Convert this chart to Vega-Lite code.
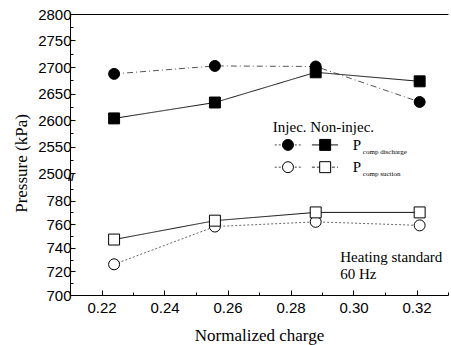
{
  "$schema": "https://vega.github.io/schema/vega-lite/v6.json",
  "padding": {"left": 12, "top": 7, "right": 0, "bottom": 2},
  "background": "white",
  "bounds": "flush",
  "config": {
    "view": {"stroke": null},
    "axis": {
      "labelFont": "Liberation Sans", "labelFontSize": 15, "labelColor": "black",
      "domainColor": "black", "tickColor": "black", "grid": false,
      "titleFont": "Liberation Serif", "titleFontSize": 17, "titleFontWeight": "normal", "titleColor": "black",
      "labelPadding": 4, "labelOverlap": false, "tickCount": 30
    },
    "concat": {"spacing": 4}
  },
  "datasets": {
    "dis": [
      {"charge": 0.224, "pressure": 2687, "series": "inj_dis"},
      {"charge": 0.256, "pressure": 2702, "series": "inj_dis"},
      {"charge": 0.288, "pressure": 2701, "series": "inj_dis"},
      {"charge": 0.321, "pressure": 2634, "series": "inj_dis"},
      {"charge": 0.224, "pressure": 2603, "series": "non_dis"},
      {"charge": 0.256, "pressure": 2633, "series": "non_dis"},
      {"charge": 0.288, "pressure": 2690, "series": "non_dis"},
      {"charge": 0.321, "pressure": 2673, "series": "non_dis"}
    ],
    "suc": [
      {"charge": 0.224, "pressure": 726, "series": "inj_suc"},
      {"charge": 0.256, "pressure": 758, "series": "inj_suc"},
      {"charge": 0.288, "pressure": 762, "series": "inj_suc"},
      {"charge": 0.321, "pressure": 759, "series": "inj_suc"},
      {"charge": 0.224, "pressure": 747, "series": "non_suc"},
      {"charge": 0.256, "pressure": 763, "series": "non_suc"},
      {"charge": 0.288, "pressure": 770, "series": "non_suc"},
      {"charge": 0.321, "pressure": 770, "series": "non_suc"}
    ]
  },
  "vconcat": [
    {
      "width": 378, "height": 159,
      "encoding": {
        "x": {"type": "quantitative", "scale": {"domain": [0.21, 0.33], "nice": false, "zero": false},
          "axis": {"orient": "top", "labels": false, "ticks": false, "title": null}},
        "y": {"type": "quantitative", "scale": {"domain": [2500, 2800], "nice": false, "zero": false},
          "axis": {"title": "Pressure (kPa)", "tickCount": 30, "values": [2500,2525,2550,2575,2600,2625,2650,2675,2700,2725,2750,2775,2800], "format": "d",
            "labelExpr": "datum.value % 50 == 0 ? datum.label : ''",
            "tickSize": {"condition": {"test": "datum.value % 50 == 0", "value": -5}, "value": -3},
            "titleX": -40, "titleY": 149, "titleAlign": "center", "titleBaseline": "bottom"}}
      },
      "layer": [
        {
          "data": {"name": "dis"},
          "encoding": {
            "x": {"field": "charge", "type": "quantitative"},
            "y": {"field": "pressure", "type": "quantitative"}
          },
          "layer": [
            {"mark": {"type": "line", "strokeWidth": 1},
             "encoding": {
               "detail": {"field": "series"},
               "strokeDash": {"field": "series", "type": "nominal", "legend": null, "scale": {"domain": ["inj_dis","non_dis","inj_suc","non_suc"], "range": [[6,3,1,3],[1,0],[2,2],[1,0]]}},
               "color": {"field": "series", "type": "nominal", "legend": null, "scale": {"domain": ["inj_dis","non_dis","inj_suc","non_suc"], "range": ["#555555","#111111","#666666","#111111"]}}
             }},
            {"mark": {"type": "point", "filled": true, "stroke": "black", "strokeWidth": 1, "opacity": 1, "size": 120},
             "encoding": {
               "shape": {"field": "series", "type": "nominal", "legend": null, "scale": {"domain": ["inj_dis","non_dis","inj_suc","non_suc"], "range": ["circle","square","circle","square"]}},
               "fill": {"field": "series", "type": "nominal", "legend": null, "scale": {"domain": ["inj_dis","non_dis","inj_suc","non_suc"], "range": ["black","black","white","white"]}}
             }}
          ]
        },
        {
          "data": {"values": [{}]},
          "layer": [
            {"mark": {"type": "text", "text": "//", "align": "left", "baseline": "middle", "font": "Liberation Sans", "fontSize": 11, "fontWeight": "bold", "color": "black", "dy": 5, "dx": -2},
             "encoding": {"x": {"datum": 0.21}, "y": {"datum": 2500}}},
            {"mark": {"type": "text", "text": "Injec. Non-injec.", "align": "left", "baseline": "middle", "font": "Liberation Serif", "fontSize": 15, "color": "black"},
             "encoding": {"x": {"datum": 0.2744}, "y": {"datum": 2586}}},
            {"mark": {"type": "rule", "strokeWidth": 1, "strokeDash": [2, 2], "color": "#444444"},
             "encoding": {"x": {"datum": 0.2750}, "x2": {"datum": 0.2834}, "y": {"datum": 2553}}},
            {"mark": {"type": "rule", "strokeWidth": 1, "color": "#111111"},
             "encoding": {"x": {"datum": 0.2868}, "x2": {"datum": 0.2951}, "y": {"datum": 2553}}},
            {"mark": {"type": "rule", "strokeWidth": 1, "strokeDash": [2, 2], "color": "#444444"},
             "encoding": {"x": {"datum": 0.2750}, "x2": {"datum": 0.2834}, "y": {"datum": 2511}}},
            {"mark": {"type": "rule", "strokeWidth": 1, "strokeDash": [3, 2], "color": "#333333"},
             "encoding": {"x": {"datum": 0.2868}, "x2": {"datum": 0.2951}, "y": {"datum": 2511}}},
            {"mark": {"type": "point", "shape": "circle", "filled": true, "fill": "black", "stroke": "black", "strokeWidth": 1, "opacity": 1, "size": 120},
             "encoding": {"x": {"datum": 0.2792}, "y": {"datum": 2553}}},
            {"mark": {"type": "point", "shape": "square", "filled": true, "fill": "black", "stroke": "black", "strokeWidth": 1, "opacity": 1, "size": 120},
             "encoding": {"x": {"datum": 0.2910}, "y": {"datum": 2553}}},
            {"mark": {"type": "point", "shape": "circle", "filled": true, "fill": "white", "stroke": "black", "strokeWidth": 1, "opacity": 1, "size": 120},
             "encoding": {"x": {"datum": 0.2792}, "y": {"datum": 2511}}},
            {"mark": {"type": "point", "shape": "square", "filled": true, "fill": "white", "stroke": "black", "strokeWidth": 1, "opacity": 1, "size": 120},
             "encoding": {"x": {"datum": 0.2910}, "y": {"datum": 2511}}},
            {"mark": {"type": "text", "text": "P", "align": "left", "baseline": "middle", "font": "Liberation Serif", "fontSize": 15, "color": "black", "dy": 0},
             "encoding": {"x": {"datum": 0.2998}, "y": {"datum": 2553}}},
            {"mark": {"type": "text", "text": "comp discharge", "align": "left", "baseline": "middle", "font": "Liberation Serif", "fontSize": 7, "color": "black", "dx": 10, "dy": 7},
             "encoding": {"x": {"datum": 0.2998}, "y": {"datum": 2553}}},
            {"mark": {"type": "text", "text": "P", "align": "left", "baseline": "middle", "font": "Liberation Serif", "fontSize": 15, "color": "black", "dy": 0},
             "encoding": {"x": {"datum": 0.2998}, "y": {"datum": 2511}}},
            {"mark": {"type": "text", "text": "comp suction", "align": "left", "baseline": "middle", "font": "Liberation Serif", "fontSize": 7, "color": "black", "dx": 10, "dy": 7},
             "encoding": {"x": {"datum": 0.2998}, "y": {"datum": 2511}}}
          ]
        }
      ]
    },
    {
      "width": 378, "height": 118,
      "encoding": {
        "x": {"type": "quantitative", "scale": {"domain": [0.21, 0.33], "nice": false, "zero": false},
          "axis": {"title": "Normalized charge", "tickCount": 30, "values": [0.21,0.22,0.23,0.24,0.25,0.26,0.27,0.28,0.29,0.30,0.31,0.32,0.33],
            "format": ".2f", "titlePadding": 10, "labelPadding": 10,
            "labelExpr": "abs(datum.value*50 - round(datum.value*50)) < 0.01 ? datum.label : ''",
            "tickSize": {"condition": {"test": "abs(datum.value*50 - round(datum.value*50)) < 0.01", "value": -5}, "value": -3}}},
        "y": {"type": "quantitative", "scale": {"domain": [700, 800], "nice": false, "zero": false},
          "axis": {"title": null, "tickCount": 30, "values": [700,710,720,730,740,750,760,770,780,790], "format": "d",
            "labelExpr": "datum.value % 20 == 0 ? datum.label : ''",
            "tickSize": {"condition": {"test": "datum.value % 20 == 0", "value": -5}, "value": -3}}}
      },
      "layer": [
        {
          "data": {"name": "suc"},
          "encoding": {
            "x": {"field": "charge", "type": "quantitative"},
            "y": {"field": "pressure", "type": "quantitative"}
          },
          "layer": [
            {"mark": {"type": "line", "strokeWidth": 1},
             "encoding": {
               "detail": {"field": "series"},
               "strokeDash": {"field": "series", "type": "nominal", "legend": null, "scale": {"domain": ["inj_dis","non_dis","inj_suc","non_suc"], "range": [[6,3,1,3],[1,0],[2,2],[1,0]]}},
               "color": {"field": "series", "type": "nominal", "legend": null, "scale": {"domain": ["inj_dis","non_dis","inj_suc","non_suc"], "range": ["#555555","#111111","#666666","#111111"]}}
             }},
            {"mark": {"type": "point", "filled": true, "stroke": "black", "strokeWidth": 1, "opacity": 1, "size": 120},
             "encoding": {
               "shape": {"field": "series", "type": "nominal", "legend": null, "scale": {"domain": ["inj_dis","non_dis","inj_suc","non_suc"], "range": ["circle","square","circle","square"]}},
               "fill": {"field": "series", "type": "nominal", "legend": null, "scale": {"domain": ["inj_dis","non_dis","inj_suc","non_suc"], "range": ["black","black","white","white"]}}
             }}
          ]
        },
        {
          "data": {"values": [{}]},
          "mark": {"type": "text", "text": ["Heating standard", "60 Hz"], "align": "left", "baseline": "top", "font": "Liberation Serif", "fontSize": 15, "lineHeight": 17, "color": "black"},
          "encoding": {"x": {"datum": 0.2958}, "y": {"datum": 738}}
        }
      ]
    }
  ],
  "resolve": {"scale": {"shape": "independent", "fill": "independent", "strokeDash": "independent", "color": "independent"}}
}
